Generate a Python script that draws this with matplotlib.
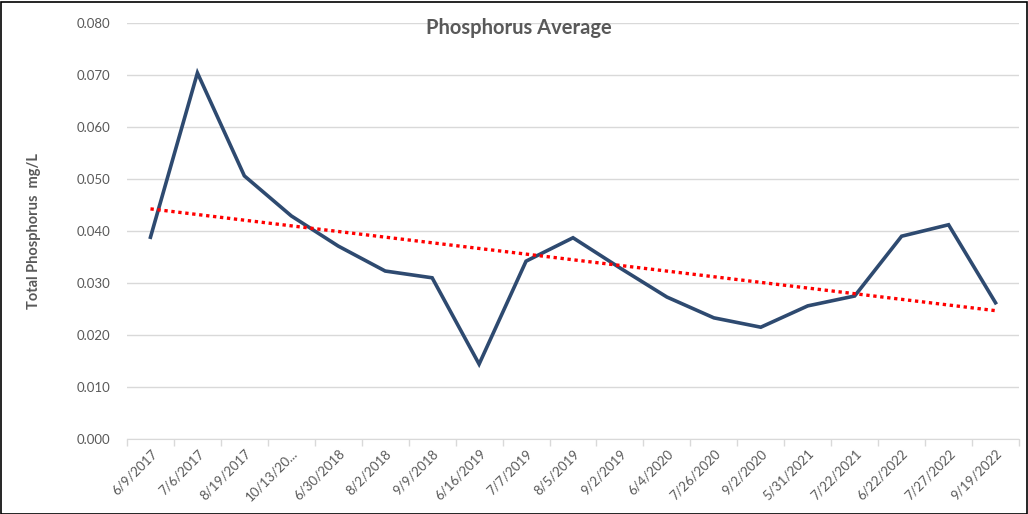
import numpy as np
import matplotlib
matplotlib.use("Agg")
import matplotlib.pyplot as plt
from matplotlib.patches import Rectangle

dates = ["6/9/2017", "7/6/2017", "8/19/2017", "10/13/20...", "6/30/2018", "8/2/2018",
         "9/9/2018", "6/16/2019", "7/7/2019", "8/5/2019", "9/2/2019", "6/4/2020",
         "7/26/2020", "9/2/2020", "5/31/2021", "7/22/2021", "6/22/2022", "7/27/2022",
         "9/19/2022"]
phosphorus = [0.0388, 0.0704, 0.0506, 0.0429, 0.0371, 0.0323, 0.0310, 0.0144, 0.0342,
              0.0387, 0.0329, 0.0273, 0.0233, 0.0215, 0.0256, 0.0275, 0.0390, 0.0412,
              0.0262]
yticks = [0.0, 0.01, 0.02, 0.03, 0.04, 0.05, 0.06, 0.07, 0.08]

plt.rcParams['font.family'] = ['Lato', 'DejaVu Sans']

fig = plt.figure(figsize=(10.28, 5.14), dpi=100)
ax = fig.add_axes([127/1028, 1-439/514, (1019-127)/1028, (439-23)/514])

x = np.arange(len(dates))
ax.plot(x, phosphorus, color="#2E4A70", lw=2.6, solid_joinstyle="miter", zorder=3)

coef = np.polyfit(x, phosphorus, 1)
ax.plot(x, np.polyval(coef, x), color="#FF0000", lw=2.4, ls=(0, (1, 1.1)), zorder=4)

ax.set_xlim(-0.5, len(dates) - 0.5)
ax.set_ylim(0, 0.08)
ax.set_yticks(yticks)
ax.set_yticklabels([f"{v:.3f}" for v in yticks], fontsize=9.5, color="#595959")
ax.yaxis.grid(True, color="#D9D9D9", lw=1)
ax.set_axisbelow(True)
ax.tick_params(axis="y", length=0, pad=12)

ax.set_xticks(x)
ax.set_xticklabels(dates, rotation=45, ha="right", va="top", rotation_mode="anchor",
                   fontsize=9.5, color="#595959")
ax.set_xticks(np.arange(len(dates) + 1) - 0.5, minor=True)
ax.tick_params(axis="x", which="major", length=0, pad=6)
ax.tick_params(axis="x", which="minor", length=5, color="#D9D9D9", width=1)

for s in ["top", "right", "left"]:
    ax.spines[s].set_visible(False)
ax.spines["bottom"].set_color("#D9D9D9")

ax.set_ylabel("Total Phosphorus  mg/L", fontsize=10.5, fontweight="bold", color="#595959")
ax.yaxis.set_label_coords(-86/892, 0.5)

fig.text(519/1028, 1-28/514, "Phosphorus Average", ha="center", va="center",
         fontsize=14.5, fontweight="bold", color="#595959")

fig.patches.append(Rectangle((0.5/1028, 0.5/514), 1-2/1028, 1-2/514, transform=fig.transFigure,
                             fill=False, edgecolor="black", lw=1.2))

fig.savefig("out.png", dpi=100)
